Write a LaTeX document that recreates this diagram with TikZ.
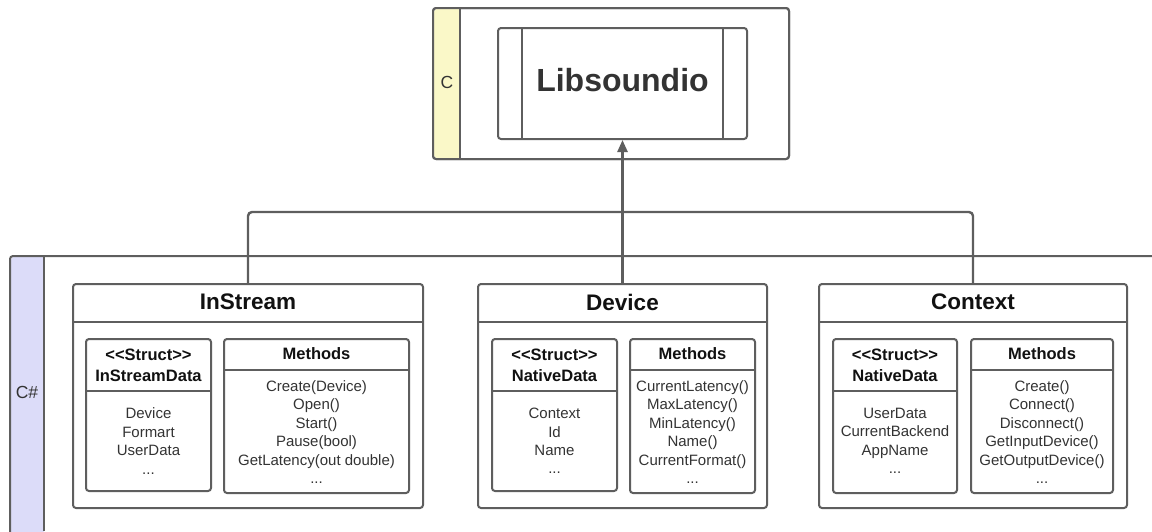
\documentclass[tikz,border=0pt]{standalone}
\usepackage{fontspec}
\setmainfont{Liberation Sans}
\usetikzlibrary{arrows.meta,calc}

\definecolor{edge}{HTML}{5E5E5E}
\definecolor{ink}{HTML}{333333}
\definecolor{head}{HTML}{111111}
\definecolor{cstrip}{HTML}{FAF8C8}
\definecolor{sstrip}{HTML}{DCDCF9}

\tikzset{
  frame/.style={draw=edge, line width=2pt, rounded corners=3pt, fill=white, inner sep=0pt},
  rule/.style={draw=edge, line width=2pt},
  conn/.style={draw=edge, line width=2.4pt, rounded corners=4pt},
  items/.style={align=center, text=ink, inner sep=0pt, font=\fontsize{15}{18.4}\selectfont},
  subhead/.style={align=center, text=head, inner sep=0pt, font=\fontsize{16.5}{21}\selectfont\bfseries},
  classhead/.style={text=head, inner sep=0pt, font=\fontsize{22.5}{26}\selectfont\bfseries},
  lanelabel/.style={text=ink, inner sep=0pt, font=\fontsize{17.5}{20}\selectfont},
}

\begin{document}
\begin{tikzpicture}[x=1pt, y=-1pt]
\useasboundingbox (0,0) rectangle (1152,531);
\clip (0,0) rectangle (1152,531);

% ---- C layer ----
\node[frame, minimum width=356pt, minimum height=151pt] (clane) at (611,83.5) {};
\fill[cstrip, rounded corners=3pt] (434,9) rectangle (460,158);
\fill[cstrip] (450,9) rectangle (460,158);
\draw[frame, fill=none] (433,8) rectangle (789,159);
\draw[rule] (460,8) -- (460,159);
\node[lanelabel] (clabel) at (447,82) {C};

\node[frame, minimum width=249pt, minimum height=111pt] (lib) at (622.5,83.5) {};
\draw[rule] ($(lib.north west)+(25,0)$) -- ($(lib.south west)+(25,0)$);
\draw[rule] ($(lib.north east)+(-25,0)$) -- ($(lib.south east)+(-25,0)$);
\node[text=ink, inner sep=0pt, font=\fontsize{32}{36}\selectfont\bfseries] (libname) at (622.5,80) {Libsoundio};

% ---- C# layer ----
\fill[sstrip, rounded corners=3pt] (11,257) rectangle (44,560);
\fill[sstrip] (30,257) rectangle (44,560);
\draw[frame, fill=none] (10,256) rectangle (1170,560);
\draw[rule] (44,256) -- (44,531);
\node[lanelabel] (cslabel) at (27,392) {C\#};

% ---- InStream ----
\node[frame, minimum width=350pt, minimum height=224pt] (ins) at (248,396) {};
\draw[rule] ($(ins.north west)+(0,39)$) -- ($(ins.north east)+(0,39)$);
\node[classhead] (insname) at (248,302) {InStream};

\node[frame, minimum width=125pt, minimum height=152pt] (insdata) at (148.5,415) {};
\draw[rule] ($(insdata.north west)+(0,53)$) -- ($(insdata.north east)+(0,53)$);
\node[subhead] (insdatahead) at (148.5,365) {<{}<Struct>{}>\\InStreamData};
\node[items] (insdataitems) at (148.5,441) {Device\\Formart\\UserData\\...};

\node[frame, minimum width=185pt, minimum height=154pt] (insm) at (316.5,416) {};
\draw[rule] ($(insm.north west)+(0,32)$) -- ($(insm.north east)+(0,32)$);
\node[subhead] (insmhead) at (316.5,354) {Methods};
\node[items] (insmitems) at (316.5,432) {Create(Device)\\Open()\\Start()\\Pause(bool)\\GetLatency(out double)\\...};

% ---- Device ----
\node[frame, minimum width=289pt, minimum height=224pt] (dev) at (622.5,396) {};
\draw[rule] ($(dev.north west)+(0,39)$) -- ($(dev.north east)+(0,39)$);
\node[classhead] (devname) at (622.5,302) {Device};

\node[frame, minimum width=125pt, minimum height=152pt] (devdata) at (554.5,415) {};
\draw[rule] ($(devdata.north west)+(0,53)$) -- ($(devdata.north east)+(0,53)$);
\node[subhead] (devdatahead) at (554.5,365) {<{}<Struct>{}>\\NativeData};
\node[items] (devdataitems) at (554.5,441) {Context\\Id\\Name\\...};

\node[frame, minimum width=125pt, minimum height=154pt] (devm) at (692.5,416) {};
\draw[rule] ($(devm.north west)+(0,32)$) -- ($(devm.north east)+(0,32)$);
\node[subhead] (devmhead) at (692.5,354) {Methods};
\node[items] (devmitems) at (692.5,432) {CurrentLatency()\\MaxLatency()\\MinLatency()\\Name()\\CurrentFormat()\\...};

% ---- Context ----
\node[frame, minimum width=308pt, minimum height=224pt] (ctx) at (973,396) {};
\draw[rule] ($(ctx.north west)+(0,39)$) -- ($(ctx.north east)+(0,39)$);
\node[classhead] (ctxname) at (973,302) {Context};

\node[frame, minimum width=124pt, minimum height=154pt] (ctxdata) at (895,416) {};
\draw[rule] ($(ctxdata.north west)+(0,53)$) -- ($(ctxdata.north east)+(0,53)$);
\node[subhead] (ctxdatahead) at (895,365) {<{}<Struct>{}>\\NativeData};
\node[items] (ctxdataitems) at (895,441) {UserData\\CurrentBackend\\AppName\\...};

\node[frame, minimum width=142pt, minimum height=154pt] (ctxm) at (1042,416) {};
\draw[rule] ($(ctxm.north west)+(0,32)$) -- ($(ctxm.north east)+(0,32)$);
\node[subhead] (ctxmhead) at (1042,354) {Methods};
\node[items] (ctxmitems) at (1042,432) {Create()\\Connect()\\Disconnect()\\GetInputDevice()\\GetOutputDevice()\\...};

% ---- dependencies ----
\coordinate (hub) at (622.5,212);
\draw[conn] (ins.north) |- (hub);
\draw[conn] (ctx.north) |- (hub);
\draw[conn, -{Triangle[length=12pt, width=10pt]}] (dev.north) -- (lib.south);
\end{tikzpicture}
\end{document}
